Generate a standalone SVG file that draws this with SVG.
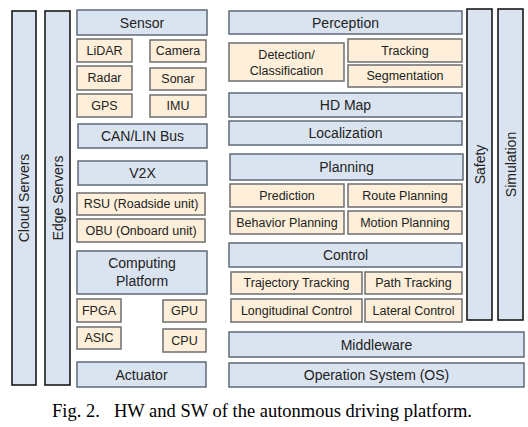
<svg xmlns="http://www.w3.org/2000/svg" width="528" height="427" viewBox="0 0 528 427">
<style>
.b{fill:#dae4f1;stroke:#5f6b78;stroke-width:1.5}
.t{fill:#fdefd9;stroke:#6e6e6e;stroke-width:1.5}
.s{fill:#dae4f1;stroke:#1a1a1a;stroke-width:1.6}
text{font-family:"Liberation Sans",Arial,sans-serif;fill:#222;text-anchor:middle}
.L{font-size:14px}
.M{font-size:12.5px}
.cap{font-family:"Liberation Serif","Times New Roman",serif;font-size:18.5px;text-anchor:start;fill:#000}
</style>
<rect width="528" height="427" fill="#fff"/>
<g id="cloud-servers"><rect class="s" x="12" y="11" width="24" height="374"/><text class="L" transform="translate(24,198) rotate(-90)" y="5">Cloud Servers</text></g>
<g id="edge-servers"><rect class="s" x="45" y="11" width="25" height="374"/><text class="L" transform="translate(57.5,198) rotate(-90)" y="5">Edge Servers</text></g>
<g id="safety"><rect class="s" x="467" y="9" width="25" height="311"/><text class="L" transform="translate(479.5,164.5) rotate(-90)" y="5">Safety</text></g>
<g id="simulation"><rect class="s" x="498" y="9" width="25" height="311"/><text class="L" transform="translate(510.5,164.5) rotate(-90)" y="5">Simulation</text></g>

<g id="sensor"><rect class="b" x="77" y="10" width="130" height="25"/><text class="L" x="142" y="27.5">Sensor</text></g>
<g id="lidar"><rect class="t" x="77" y="39" width="55" height="23"/><text class="M" x="104.5" y="54.9">LiDAR</text></g>
<g id="camera"><rect class="t" x="150" y="40" width="56" height="22"/><text class="M" x="178" y="55.4">Camera</text></g>
<g id="radar"><rect class="t" x="77" y="66" width="55" height="24"/><text class="M" x="104.5" y="82.4">Radar</text></g>
<g id="sonar"><rect class="t" x="150" y="68" width="56" height="22"/><text class="M" x="178" y="83.4">Sonar</text></g>
<g id="gps"><rect class="t" x="77" y="94" width="55" height="23"/><text class="M" x="104.5" y="109.9">GPS</text></g>
<g id="imu"><rect class="t" x="150" y="95" width="56" height="22"/><text class="M" x="178" y="110.4">IMU</text></g>
<g id="can-lin-bus"><rect class="b" x="78" y="124" width="129" height="24"/><text class="L" x="142.5" y="141">CAN/LIN Bus</text></g>
<g id="v2x"><rect class="b" x="78" y="161" width="129" height="24"/><text class="L" x="142.5" y="178">V2X</text></g>
<g id="rsu"><rect class="t" x="77" y="193" width="128" height="22"/><text class="M" x="141" y="208.4">RSU (Roadside unit)</text></g>
<g id="obu"><rect class="t" x="77" y="219" width="128" height="23"/><text class="M" x="141" y="234.9">OBU (Onboard unit)</text></g>
<g id="computing-platform"><rect class="b" x="77" y="251" width="130" height="43"/><text class="L" x="142" y="268">Computing</text><text class="L" x="142" y="286">Platform</text></g>
<g id="fpga"><rect class="t" x="77" y="299" width="44" height="23"/><text class="M" x="99" y="314.9">FPGA</text></g>
<g id="gpu"><rect class="t" x="163" y="300" width="43" height="22"/><text class="M" x="184.5" y="315.4">GPU</text></g>
<g id="asic"><rect class="t" x="77" y="327" width="44" height="22"/><text class="M" x="99" y="342.4">ASIC</text></g>
<g id="cpu"><rect class="t" x="163" y="329" width="43" height="23"/><text class="M" x="184.5" y="344.9">CPU</text></g>
<g id="actuator"><rect class="b" x="77" y="362" width="129" height="25"/><text class="L" x="141.5" y="379.5">Actuator</text></g>

<g id="perception"><rect class="b" x="229" y="11" width="233" height="23"/><text class="L" x="345.5" y="27.5">Perception</text></g>
<g id="detection-classification"><rect class="t" x="229" y="43" width="115" height="38"/><text class="M" x="286.5" y="59">Detection/</text><text class="M" x="286.5" y="75">Classification</text></g>
<g id="tracking"><rect class="t" x="348" y="39" width="114" height="23"/><text class="M" x="405" y="54.9">Tracking</text></g>
<g id="segmentation"><rect class="t" x="348" y="65" width="114" height="22"/><text class="M" x="405" y="80.4">Segmentation</text></g>
<g id="hd-map"><rect class="b" x="229" y="93" width="233" height="24"/><text class="L" x="345.5" y="110">HD Map</text></g>
<g id="localization"><rect class="b" x="229" y="121" width="233" height="24"/><text class="L" x="345.5" y="138">Localization</text></g>
<g id="planning"><rect class="b" x="230" y="154" width="233" height="26"/><text class="L" x="346.5" y="172">Planning</text></g>
<g id="prediction"><rect class="t" x="230" y="184" width="114" height="23"/><text class="M" x="287" y="199.9">Prediction</text></g>
<g id="route-planning"><rect class="t" x="348" y="184" width="114" height="23"/><text class="M" x="405" y="199.9">Route Planning</text></g>
<g id="behavior-planning"><rect class="t" x="230" y="211" width="114" height="23"/><text class="M" x="287" y="226.9">Behavior Planning</text></g>
<g id="motion-planning"><rect class="t" x="348" y="211" width="114" height="23"/><text class="M" x="405" y="226.9">Motion Planning</text></g>
<g id="control"><rect class="b" x="229" y="243" width="233" height="24"/><text class="L" x="345.5" y="260">Control</text></g>
<g id="trajectory-tracking"><rect class="t" x="231" y="272" width="131" height="22"/><text class="M" x="296.5" y="287.4">Trajectory Tracking</text></g>
<g id="path-tracking"><rect class="t" x="365" y="272" width="97" height="22"/><text class="M" x="413.5" y="287.4">Path Tracking</text></g>
<g id="longitudinal-control"><rect class="t" x="231" y="299" width="131" height="23"/><text class="M" x="296.5" y="314.9">Longitudinal Control</text></g>
<g id="lateral-control"><rect class="t" x="365" y="299" width="97" height="23"/><text class="M" x="413.5" y="314.9">Lateral Control</text></g>
<g id="middleware"><rect class="b" x="229" y="332" width="295" height="25"/><text class="L" x="376.5" y="349.5">Middleware</text></g>
<g id="operation-system"><rect class="b" x="229" y="363" width="295" height="24"/><text class="L" x="376.5" y="380">Operation System (OS)</text></g>

<g id="caption"><text class="cap" x="52" y="417">Fig. 2.</text><text class="cap" x="114" y="417">HW and SW of the autonmous driving platform.</text></g>
</svg>
